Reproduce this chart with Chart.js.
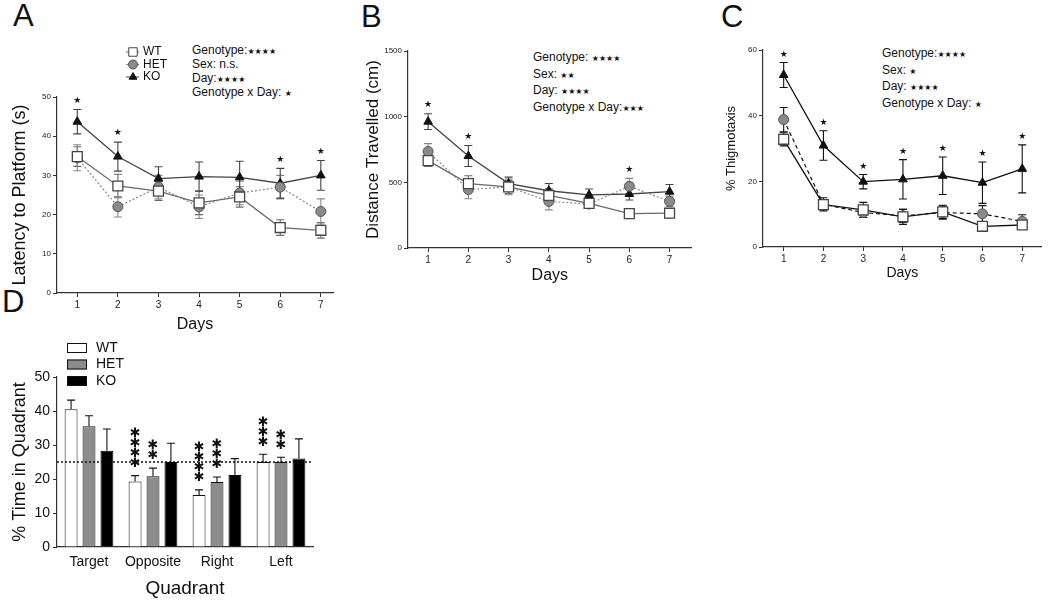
<!DOCTYPE html>
<html>
<head>
<meta charset="utf-8">
<script src="https://cdn.jsdelivr.net/npm/chart.js@4.4.0/dist/chart.umd.min.js"></script>
<style>
body{margin:0;background:#fff;width:1050px;height:608px;position:relative;overflow:hidden;font-family:"Liberation Sans",Arial,sans-serif;color:#111}
canvas{position:absolute}
.lbl{position:absolute;font-size:31px;line-height:31px}
.ann{position:absolute;font-size:12px;white-space:pre}
.st{font-family:"DejaVu Sans";font-size:8px;letter-spacing:0}
</style>
</head>
<body>
<div class="lbl" style="left:13px;top:0">A</div>
<div class="lbl" style="left:361px;top:1px">B</div>
<div class="lbl" style="left:721px;top:1px">C</div>
<div class="lbl" style="left:2px;top:286px">D</div>

<div class="ann" style="left:192px;top:44px;line-height:13.4px">Genotype:<span class="st">★★★★</span>
Sex: n.s.
Day:<span class="st">★★★★</span>
Genotype x Day: <span class="st">★</span></div>
<div class="ann" style="left:533px;top:50px;line-height:14.5px">Genotype: <span class="st">★★★★</span>
Sex: <span class="st">★★</span>
Day: <span class="st">★★★★</span>
Genotype x Day:<span class="st">★★★</span></div>
<div class="ann" style="left:882px;top:46px;line-height:14.6px">Genotype:<span class="st">★★★★</span>
Sex: <span class="st">★</span>
Day: <span class="st">★★★★</span>
Genotype x Day: <span class="st">★</span></div>

<canvas id="chartA" width="345" height="340" style="left:0;top:0"></canvas>
<canvas id="chartB" width="360" height="300" style="left:340px;top:0"></canvas>
<canvas id="chartC" width="360" height="300" style="left:690px;top:0"></canvas>
<canvas id="chartD" width="330" height="278" style="left:0;top:330px"></canvas>

<script>
const days = [1, 2, 3, 4, 5, 6, 7];

// A - latency to platform (s)
const latWT = [34.8, 27.3, 26, 23, 24.5, 16.7, 16];
const latWTerr = [2.5, 3, 2.4, 3, 2.6, 2, 2];
const latHET = [34.5, 22, 27, 22, 25.5, 27, 20.8];
const latHETerr = [3.3, 2.6, 3, 3, 3, 3, 3.2];
const latKO = [43.7, 34.8, 29.2, 29.7, 29.5, 28, 30];
const latKOerr = [3.1, 3.7, 3, 3.7, 4.1, 3.8, 3.8];
const latSig = [1, 1, 0, 0, 0, 1, 1];

// B - distance travelled (cm)
const distWT = [665, 490, 465, 400, 340, 262, 265];
const distWTerr = [45, 60, 50, 50, 35, 15, 35];
const distHET = [735, 445, 465, 355, 335, 470, 355];
const distHETerr = [60, 70, 60, 65, 30, 60, 40];
const distKO = [962, 700, 490, 436, 404, 411, 429];
const distKOerr = [60, 80, 50, 55, 45, 45, 55];
const distSig = [1, 1, 0, 0, 0, 1, 0];

// C - % thigmotaxis
const thigWT = [32.8, 12.9, 11.3, 9.2, 10.7, 6.3, 6.7];
const thigWTerr = [2, 1.5, 2.3, 2.3, 2, 1, 1];
const thigHET = [38.8, 13, 10.5, 9.5, 10.5, 10.1, 7.8];
const thigHETerr = [3.7, 2, 1.5, 2, 2, 2.5, 2];
const thigKO = [52.4, 30.9, 19.9, 20.6, 21.7, 19.6, 23.8];
const thigKOerr = [3.8, 4.5, 2.2, 6, 5.7, 6.3, 7.3];
const thigSig = [1, 1, 1, 1, 1, 1, 1];

// D - % time in quadrant
const quadrants = ['Target', 'Opposite', 'Right', 'Left'];
const quadWT = [40.5, 19.3, 15.3, 25];
const quadWTerr = [2.7, 1.7, 1.5, 2.3];
const quadHET = [35.5, 20.8, 19.1, 25];
const quadHETerr = [3.1, 2.4, 1.5, 1.4];
const quadKO = [28.3, 25, 21.2, 26];
const quadKOerr = [6.4, 5.5, 4.8, 5.8];
const quadWTstars = [0, 4, 4, 3];
const quadHETstars = [0, 2, 3, 2];
const chanceLevel = 25;

const FONT = '"Liberation Sans", Arial, sans-serif';
Chart.defaults.font.family = FONT;
Chart.defaults.color = '#222';

function pts(arr) { return days.map((d, i) => ({ x: d, y: arr[i] })); }
function val(p) { return typeof p === 'object' ? p.y : p; }

const errorBars = {
  id: 'errorBars',
  draw(chart, layer) {
    const ctx = chart.ctx, ys = chart.scales.y;
    chart.data.datasets.forEach((ds, i) => {
      if (!ds.errors || (ds.errLayer || 'before') !== layer) return;
      const meta = chart.getDatasetMeta(i);
      ctx.save();
      ctx.strokeStyle = ds.errColor || '#333';
      ctx.lineWidth = 1.1;
      meta.data.forEach((el, j) => {
        const v = val(ds.data[j]), e = ds.errors[j];
        const top = ys.getPixelForValue(v + e);
        const bot = ds.upOnly ? el.y : ys.getPixelForValue(v - e);
        const x = el.x, cap = ds.capWidth || 4;
        ctx.beginPath();
        ctx.moveTo(x, top); ctx.lineTo(x, bot);
        ctx.moveTo(x - cap, top); ctx.lineTo(x + cap, top);
        if (!ds.upOnly) { ctx.moveTo(x - cap, bot); ctx.lineTo(x + cap, bot); }
        ctx.stroke();
      });
      ctx.restore();
    });
  },
  beforeDatasetsDraw(chart) { this.draw(chart, 'before'); },
  afterDatasetsDraw(chart) { this.draw(chart, 'after'); }
};

// stars above the highest error bar of a day
const sigStars = {
  id: 'sigStars',
  afterDatasetsDraw(chart, args, opts) {
    if (!opts.flags) return;
    const ctx = chart.ctx, xs = chart.scales.x, ys = chart.scales.y;
    ctx.save();
    ctx.fillStyle = '#111';
    ctx.font = '9px "DejaVu Sans"';
    ctx.textAlign = 'center';
    ctx.textBaseline = 'middle';
    opts.flags.forEach((f, j) => {
      if (!f) return;
      let hi = -Infinity;
      chart.data.datasets.forEach(ds => { hi = Math.max(hi, val(ds.data[j]) + ds.errors[j]); });
      ctx.fillText('★', xs.getPixelForValue(days[j]), ys.getPixelForValue(hi) - (opts.offset || 9));
    });
    ctx.restore();
  }
};

// legend for panel A
const legendA = {
  id: 'legendA',
  afterDraw(chart) {
    const ctx = chart.ctx;
    const rows = [[chart.data.datasets[0], 'WT', 52], [chart.data.datasets[1], 'HET', 64.5], [chart.data.datasets[2], 'KO', 77]];
    ctx.save();
    rows.forEach(([ds, label, y]) => {
      ctx.strokeStyle = ds.borderColor;
      ctx.lineWidth = 1;
      ctx.setLineDash([]);
      ctx.beginPath(); ctx.moveTo(126, y); ctx.lineTo(139, y); ctx.stroke();
      ctx.fillStyle = ds.pointBackgroundColor;
      ctx.strokeStyle = ds.pointBorderColor;
      Chart.helpers.drawPoint(ctx, { pointStyle: ds.pointStyle, radius: ds.pointStyle === 'rect' ? 6 : 4.5, borderWidth: 1.2, rotation: 0 }, 133, y);
      ctx.fillStyle = '#111';
      ctx.font = '12px ' + FONT;
      ctx.textBaseline = 'middle';
      ctx.fillText(label, 143, y);
    });
    ctx.restore();
  }
};

function lineSets(wt, wtErr, het, hetErr, ko, koErr, dark) {
  const c1 = dark ? '#111' : '#6a6a6a', c2 = dark ? '#111' : '#888', c3 = dark ? '#111' : '#444';
  return [
    { label: 'WT', data: pts(wt), errors: wtErr, borderColor: c1, borderWidth: 1.3, errColor: c1,
      pointStyle: 'rect', pointRadius: 7, pointBackgroundColor: '#fff', pointBorderColor: '#444', pointBorderWidth: 1.3, order: 1 },
    { label: 'HET', data: pts(het), errors: hetErr, borderColor: c2, borderWidth: 1.2, borderDash: dark ? [4, 3] : [2, 2], errColor: c2,
      pointStyle: 'circle', pointRadius: 5, pointBackgroundColor: '#8a8a8a', pointBorderColor: '#555', pointBorderWidth: 1, order: 2 },
    { label: 'KO', data: pts(ko), errors: koErr, borderColor: c3, borderWidth: 1.3, errColor: c3,
      pointStyle: 'triangle', pointRadius: 5, pointBackgroundColor: '#111', pointBorderColor: '#111', pointBorderWidth: 1, order: 3 }
  ];
}

function lineOptions(o) {
  return {
    responsive: false,
    animation: false,
    layout: { padding: o.padding },
    plugins: { legend: { display: false }, tooltip: { enabled: false }, sigStars: { flags: o.sig, offset: o.starOffset } },
    scales: {
      x: {
        type: 'linear', min: o.xmin, max: o.xmax,
        afterBuildTicks(s) { s.ticks = days.map(v => ({ value: v })); },
        ticks: { font: { size: 10 }, color: '#222', padding: 2, autoSkip: false, maxRotation: 0 },
        grid: { drawOnChartArea: false, tickLength: 4, color: '#333' },
        border: { color: '#333', width: 1.2 },
        title: { display: true, text: 'Days', font: { size: o.xTitleSize }, color: '#111', padding: { top: 0, bottom: o.xTitlePad } },
        afterFit(s) { s.height = o.xHeight; }
      },
      y: {
        min: 0, max: o.ymax,
        ticks: { stepSize: o.ystep, font: { size: 8 }, color: '#222', padding: 2, callback: v => String(v) },
        grid: { drawOnChartArea: false, tickLength: 4, color: '#333' },
        border: { color: '#333', width: 1.2 },
        title: { display: true, text: o.yTitle, font: { size: o.yTitleSize }, color: '#111', padding: { top: o.yTitlePad, bottom: 0 } },
        afterFit(s) { s.width = o.yWidth; }
      }
    }
  };
}

new Chart(document.getElementById('chartA'), {
  type: 'line',
  data: { datasets: lineSets(latWT, latWTerr, latHET, latHETerr, latKO, latKOerr, false) },
  options: lineOptions({ padding: { top: 97, right: 12, bottom: 2, left: 0 }, sig: latSig, starOffset: 9,
    xmin: 0.5, xmax: 7.3, xHeight: 45, xTitleSize: 16, xTitlePad: 4,
    ymax: 50, ystep: 10, yTitle: 'Latency to Platform (s)', yTitleSize: 18, yTitlePad: 9, yWidth: 57 }),
  plugins: [errorBars, sigStars, legendA]
});

new Chart(document.getElementById('chartB'), {
  type: 'line',
  data: { datasets: lineSets(distWT, distWTerr, distHET, distHETerr, distKO, distKOerr, false) },
  options: lineOptions({ padding: { top: 51, right: 6, bottom: 15, left: 0 }, sig: distSig, starOffset: 9,
    xmin: 0.5, xmax: 7.55, xHeight: 37, xTitleSize: 16, xTitlePad: 0,
    ymax: 1500, ystep: 500, yTitle: 'Distance Travelled (cm)', yTitleSize: 17, yTitlePad: 23, yWidth: 68 }),
  plugins: [errorBars, sigStars]
});

new Chart(document.getElementById('chartC'), {
  type: 'line',
  data: { datasets: lineSets(thigWT, thigWTerr, thigHET, thigHETerr, thigKO, thigKOerr, true) },
  options: lineOptions({ padding: { top: 50, right: 2, bottom: 15, left: 0 }, sig: thigSig, starOffset: 8,
    xmin: 0.48, xmax: 7.49, xHeight: 38, xTitleSize: 14, xTitlePad: 3,
    ymax: 60, ystep: 20, yTitle: '% Thigmotaxis', yTitleSize: 13, yTitlePad: 34, yWidth: 73 }),
  plugins: [errorBars, sigStars]
});

// panel D helpers
const quadExtras = {
  id: 'quadExtras',
  afterDatasetsDraw(chart) {
    const ctx = chart.ctx, ys = chart.scales.y, area = chart.chartArea;
    ctx.save();
    // chance level
    const yl = ys.getPixelForValue(chanceLevel);
    ctx.strokeStyle = '#111';
    ctx.lineWidth = 1.5;
    ctx.setLineDash([2, 2]);
    ctx.beginPath(); ctx.moveTo(area.left, yl); ctx.lineTo(area.right, yl); ctx.stroke();
    ctx.setLineDash([]);
    // stacked asterisks
    ctx.fillStyle = '#111';
    ctx.font = 'bold 13px "DejaVu Sans"';
    ctx.textAlign = 'center';
    ctx.textBaseline = 'middle';
    chart.data.datasets.forEach((ds, i) => {
      if (!ds.stars) return;
      const meta = chart.getDatasetMeta(i);
      meta.data.forEach((el, j) => {
        const base = ys.getPixelForValue(ds.data[j] + ds.errors[j]) - 12;
        for (let k = 0; k < ds.stars[j]; k++) ctx.fillText('✱', el.x, base - k * 10);
      });
    });
    // legend
    const rows = [[chart.data.datasets[0], 348], [chart.data.datasets[1], 364.5], [chart.data.datasets[2], 381]];
    ctx.font = '14px ' + FONT;
    ctx.textAlign = 'left';
    rows.forEach(([ds, py]) => {
      const y = py - 330;
      ctx.fillStyle = ds.backgroundColor;
      ctx.fillRect(67, y - 5, 20, 10);
      ctx.strokeStyle = '#111';
      ctx.lineWidth = 1;
      ctx.strokeRect(67.5, y - 4.5, 19, 9);
      ctx.fillStyle = '#111';
      ctx.fillText(ds.label, 96, y);
    });
    ctx.restore();
  }
};

new Chart(document.getElementById('chartD'), {
  type: 'bar',
  data: {
    labels: quadrants,
    datasets: [
      { label: 'WT', data: quadWT, errors: quadWTerr, stars: quadWTstars, backgroundColor: '#fff', borderColor: '#111', borderWidth: 1,
        upOnly: true, errLayer: 'after', capWidth: 4, errColor: '#111' },
      { label: 'HET', data: quadHET, errors: quadHETerr, stars: quadHETstars, backgroundColor: '#8c8c8c', borderColor: '#111', borderWidth: 1,
        upOnly: true, errLayer: 'after', capWidth: 4, errColor: '#111' },
      { label: 'KO', data: quadKO, errors: quadKOerr, backgroundColor: '#000', borderColor: '#000', borderWidth: 1,
        upOnly: true, errLayer: 'after', capWidth: 4, errColor: '#111' }
    ]
  },
  options: {
    responsive: false,
    animation: false,
    categoryPercentage: 0.84,
    barPercentage: 0.72,
    layout: { padding: { top: 47, right: 17, bottom: 0, left: 0 } },
    plugins: { legend: { display: false }, tooltip: { enabled: false } },
    scales: {
      x: {
        ticks: { font: { size: 14 }, color: '#111', padding: 7, autoSkip: false, maxRotation: 0, minRotation: 0 },
        grid: { display: false, drawTicks: false },
        border: { color: '#333', width: 1.2 },
        title: { display: true, text: 'Quadrant', font: { size: 19 }, color: '#111', padding: { top: 0, bottom: 8 } },
        afterFit(s) { s.height = 61; }
      },
      y: {
        min: 0, max: 50,
        ticks: { stepSize: 10, font: { size: 14 }, color: '#111', padding: 3 },
        grid: { drawOnChartArea: false, tickLength: 4, color: '#333' },
        border: { color: '#333', width: 1.2 },
        title: { display: true, text: '% Time in Quadrant', font: { size: 18 }, color: '#111', padding: { top: 9, bottom: 0 } },
        afterFit(s) { s.width = 57; }
      }
    }
  },
  plugins: [errorBars, quadExtras]
});
</script>
</body>
</html>
